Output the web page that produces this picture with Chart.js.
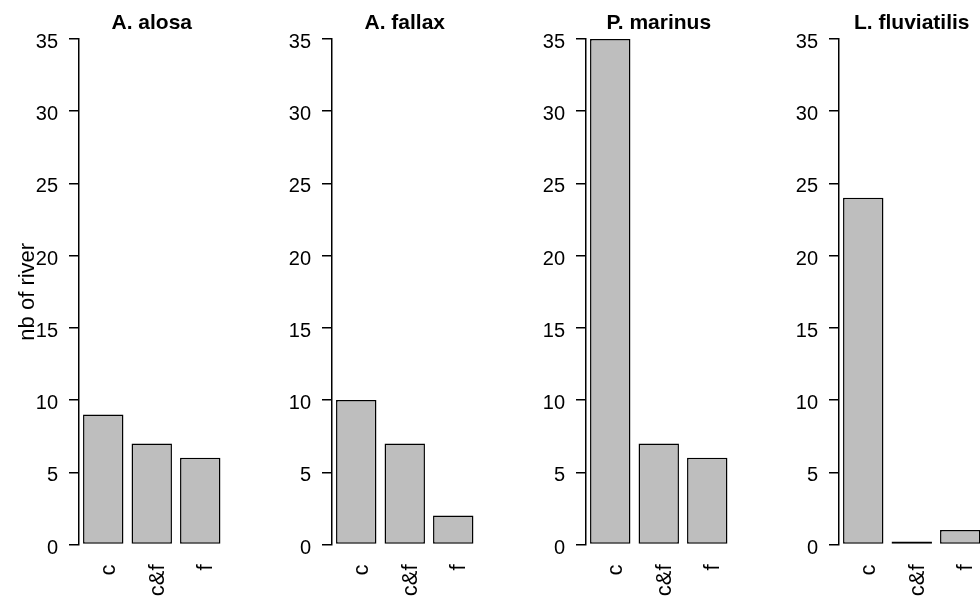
<!DOCTYPE html>
<html>
<head>
<meta charset="utf-8">
<title>nb of river</title>
<script src="https://cdn.jsdelivr.net/npm/chart.js@4"></script>
<style>
  html, body { margin: 0; padding: 0; background: #fff; overflow: hidden; }
  #wrap { position: relative; width: 980px; height: 602px; overflow: hidden; }
  #wrap canvas { position: absolute; top: 0; }
</style>
</head>
<body>
<div id="wrap"></div>
<script>
// data
const categories = ['c', 'c&f', 'f'];
const species = ['A. alosa', 'A. fallax', 'P. marinus', 'L. fluviatilis'];
const alosaValues = [9, 7, 6];
const fallaxValues = [10, 7, 2];
const marinusValues = [35, 7, 6];
const fluviatilisValues = [24, 0, 1];
const yMin = 0;
const yMax = 35;
const yStep = 5;
const yTitle = 'nb of river';

const seriesValues = [alosaValues, fallaxValues, marinusValues, fluviatilisValues];

document.addEventListener('DOMContentLoaded', function () {
    const wrap = document.getElementById('wrap');
    const panelLeft = [0, 253, 507, 760];
    const panelW = 253;
    const font = 'Liberation Sans, Arial, Helvetica, sans-serif';

    species.forEach((name, i) => {
        const canvas = document.createElement('canvas');
        canvas.width = panelW;
        canvas.height = 602;
        canvas.style.left = panelLeft[i] + 'px';
        wrap.appendChild(canvas);

        new Chart(canvas.getContext('2d'), {
            type: 'bar',
            data: {
                labels: categories,
                datasets: [{
                    data: seriesValues[i],
                    backgroundColor: '#bebebe',
                    borderColor: '#000',
                    borderWidth: 1.5,
                    borderSkipped: false,
                    minBarLength: 3,   // so a zero bar still shows as a line
                    categoryPercentage: 1,
                    barPercentage: 1 / 1.2,
                    clip: false
                }]
            },
            options: {
                responsive: false,
                animation: false,
                layout: { padding: { left: 0, right: 28.5, top: 0, bottom: 0 } },
                plugins: {
                    legend: { display: false },
                    tooltip: { enabled: false },
                    title: {
                        display: true,
                        text: name,
                        fullSize: false,
                        color: '#000',
                        font: { family: font, size: 21, weight: 'bold' },
                        padding: { top: 11, bottom: 2.8 }
                    }
                },
                scales: {
                    x: {
                        grid: { display: false },
                        border: { display: false },
                        ticks: {
                            color: '#000',
                            font: { family: font, size: 22 },
                            minRotation: 90, maxRotation: 90,
                            autoSkip: false,
                            padding: 12,
                            labelOffset: 6
                        },
                        afterFit: (scale) => { scale.height = 57.5; }
                    },
                    y: {
                        min: yMin, max: yMax,
                        grid: {
                            drawOnChartArea: false,
                            drawTicks: true,
                            tickLength: 10,
                            color: '#000',
                            lineWidth: 1.5
                        },
                        border: { display: true, color: '#000', width: 1.5 },
                        ticks: {
                            stepSize: yStep,
                            color: '#000',
                            font: { family: font, size: 20 },
                            padding: 11,
                            labelOffset: 3.5
                        },
                        title: {
                            display: i === 0,
                            text: yTitle,
                            color: '#000',
                            font: { family: font, size: 22 },
                            padding: { top: 15, bottom: 0 }
                        },
                        afterFit: (scale) => { scale.width = 79; }
                    }
                }
            }
        });
    });
});
</script>
</body>
</html>
